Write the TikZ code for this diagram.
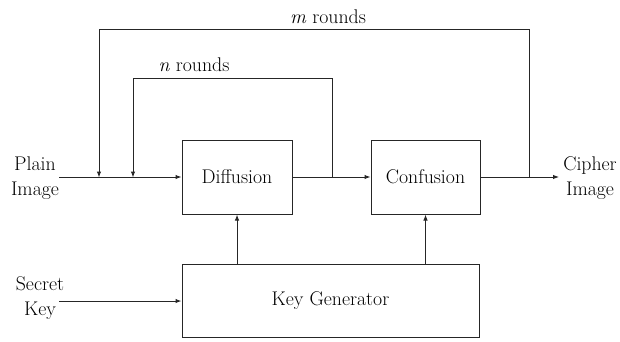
\documentclass[tikz,border=0pt]{standalone}
\usetikzlibrary{arrows.meta}
\begin{document}
\begin{tikzpicture}[x=1pt,y=-1pt,
  block/.style={draw=black!85, line width=1pt, inner sep=0pt,
    font=\rmfamily\fontsize{19.8}{24}\selectfont},
  lbl/.style={font=\rmfamily\fontsize{19.8}{25}\selectfont, align=center, inner sep=0pt},
  wire/.style={draw=black!85, line width=1pt},
  arr/.style={wire, -{Latex[length=6pt,width=4.5pt]}}]
\useasboundingbox (0,0) rectangle (620,341);

% processing blocks
\node[block, minimum width=110pt, minimum height=74pt] (diff) at (237,177) {Diffusion};
\node[block, minimum width=109pt, minimum height=74pt] (conf) at (425.5,177) {Confusion};
\node[block, minimum width=297pt, minimum height=73.5pt] (keygen) at (330.5,300.75) {Key Generator};

% input / output labels
\node[lbl] (plain) at (35,178) {Plain\\Image};
\node[lbl] (cipher) at (590,178) {Cipher\\Image};
\node[lbl] (secret) at (40,298) {Secret\\Key};
\node[lbl] (nlabel) at (194,65) {\textit{n} rounds};
\node[lbl] (mlabel) at (328,17) {\textit{m} rounds};

% junction points on the data path
\coordinate (inStart) at (59,177);
\coordinate (mIn) at (99,177);
\coordinate (nIn) at (133,177);
\coordinate (nOut) at (332,177);
\coordinate (mOut) at (529,177);
\coordinate (outEnd) at (559,177);
\coordinate (keyStart) at (59,301);

% main data path
\draw[arr] (inStart) -- (diff.west);
\draw[arr] (diff.east) -- (conf.west);
\draw[arr] (conf.east) -- (outEnd);

% feedback loops
\draw[arr] (nOut) -- ++(0,-99) -| ([yshift=-0.5pt]nIn);
\draw[arr] (mOut) -- ++(0,-148) -| ([yshift=-0.5pt]mIn);

% key distribution
\draw[arr] (keyStart) -- (keygen.west |- keyStart);
\draw[arr] (keygen.north -| diff.south) -- (diff.south);
\draw[arr] (keygen.north -| conf.south) -- (conf.south);
\end{tikzpicture}
\end{document}
